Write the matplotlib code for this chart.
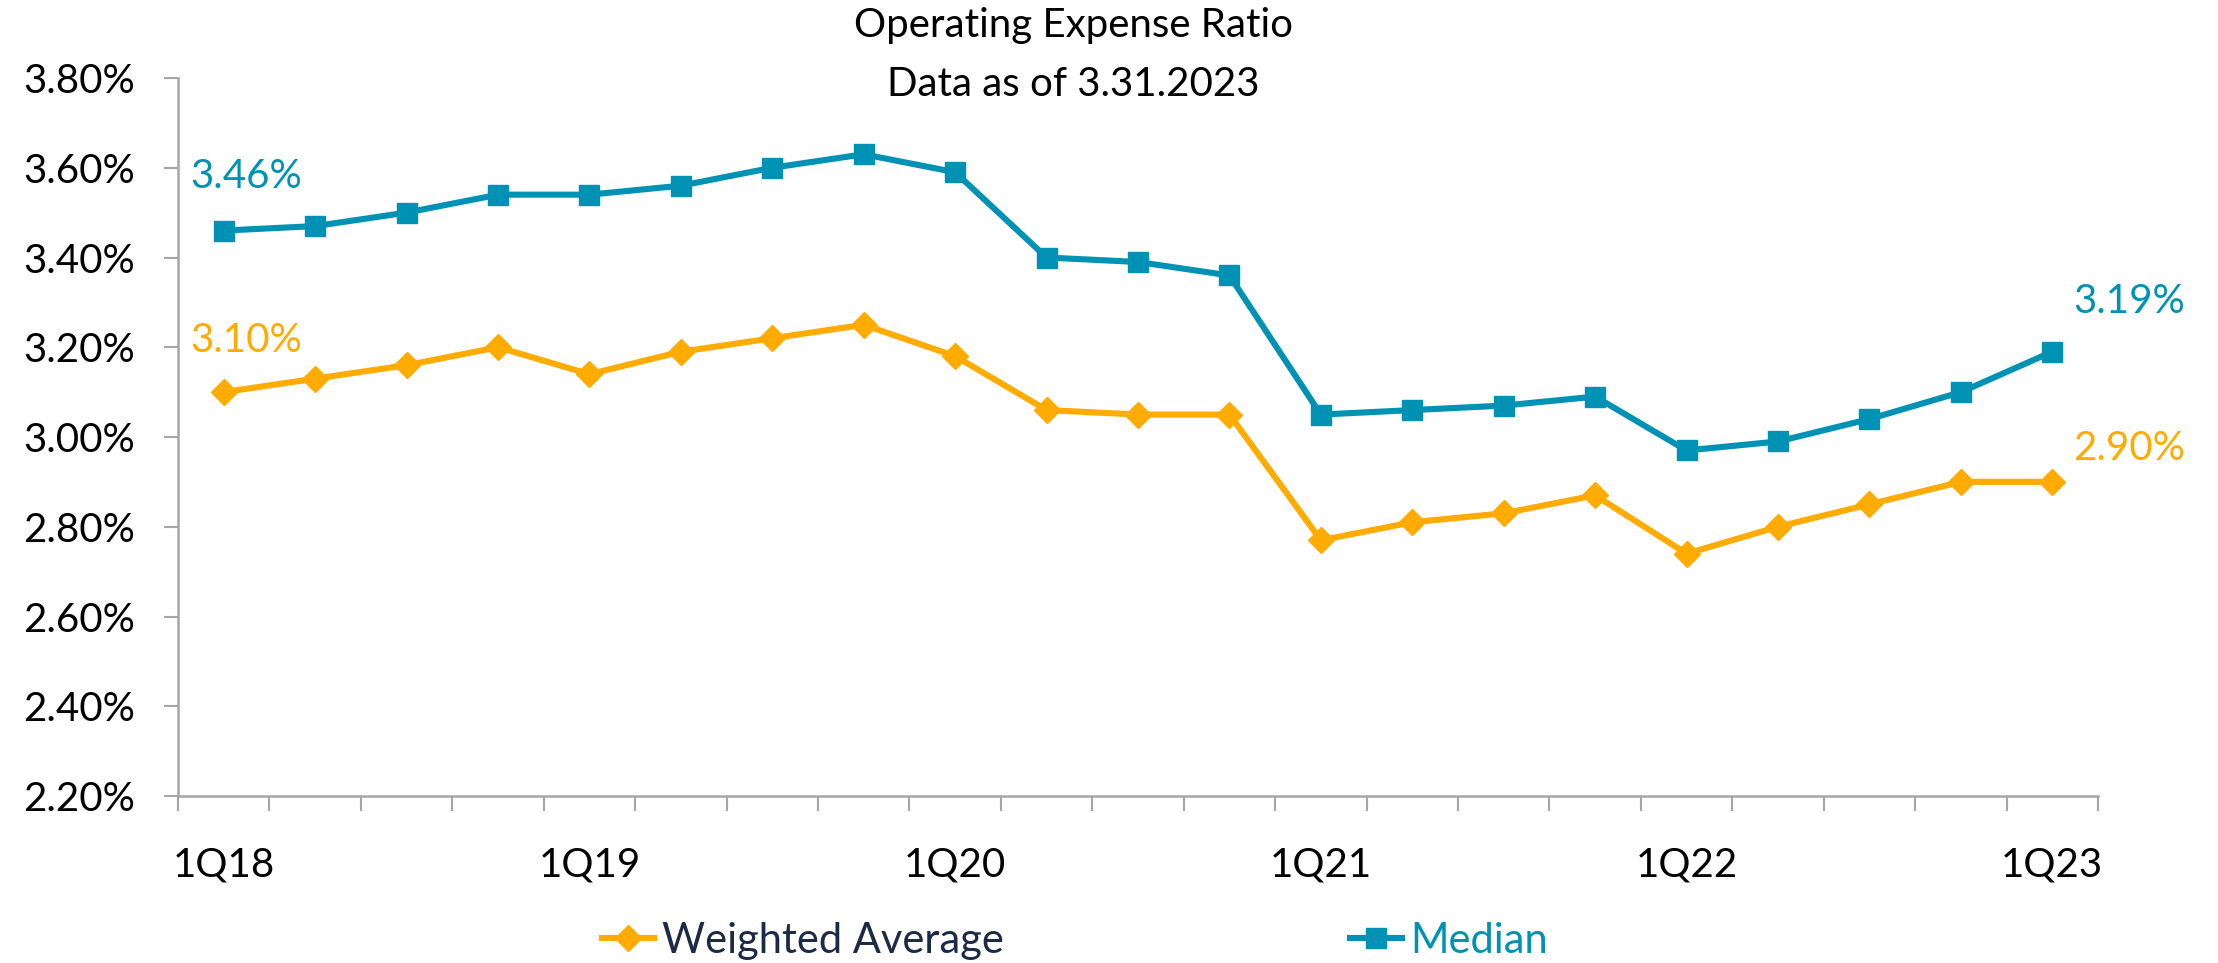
import matplotlib
matplotlib.use("Agg")
import matplotlib.pyplot as plt
from matplotlib.ticker import FixedLocator, FuncFormatter

plt.rcParams['font.family'] = ['Lato', 'DejaVu Sans']

quarters = [f"{q}Q{y}" for y in range(18, 24) for q in range(1, 5)][:21]
weighted_avg = [3.10, 3.13, 3.16, 3.20, 3.14, 3.19, 3.22, 3.25, 3.18, 3.06, 3.05,
                3.05, 2.77, 2.81, 2.83, 2.87, 2.74, 2.80, 2.85, 2.90, 2.90]
median = [3.46, 3.47, 3.50, 3.54, 3.54, 3.56, 3.60, 3.63, 3.59, 3.40, 3.39,
          3.36, 3.05, 3.06, 3.07, 3.09, 2.97, 2.99, 3.04, 3.10, 3.19]
y_ticks = [2.20, 2.40, 2.60, 2.80, 3.00, 3.20, 3.40, 3.60, 3.80]

ORANGE = "#FFAB00"
TEAL = "#0092B4"
NAVY = "#1B2A47"
AXIS_GREY = "#A6A6A6"
FS = 29

W, H = 2218, 963
fig = plt.figure(figsize=(W / 100, H / 100), dpi=100)
ax = fig.add_axes([178 / W, 1 - 796 / H, (2098 - 178) / W, (796 - 78) / H])

x = list(range(len(quarters)))
l1, = ax.plot(x, weighted_avg, color=ORANGE, lw=4.4, marker='D', ms=13.5,
              label="Weighted Average", solid_joinstyle='miter')
l2, = ax.plot(x, median, color=TEAL, lw=4.4, marker='s', ms=14,
              label="Median", solid_joinstyle='miter')

ax.set_xlim(-0.5, len(quarters) - 0.5)
ax.set_ylim(y_ticks[0], y_ticks[-1])

# y axis
ax.yaxis.set_major_locator(FixedLocator(y_ticks))
ax.yaxis.set_major_formatter(FuncFormatter(lambda v, p: f"{v:.2f}%"))
ax.tick_params(axis='y', direction='out', length=10, width=1.5, color=AXIS_GREY,
               pad=21, labelsize=FS, labelcolor='black')

# x axis: tick marks between quarters, labels every fourth quarter
ax.set_xticks([i - 0.5 for i in range(len(quarters) + 1)], minor=True)
label_idx = list(range(0, len(quarters), 4))
ax.set_xticks(label_idx)
ax.set_xticklabels([quarters[i] for i in label_idx])
ax.tick_params(axis='x', which='minor', direction='out', length=11, width=1.5,
               color=AXIS_GREY)
ax.tick_params(axis='x', which='major', length=0, pad=36, labelsize=FS,
               labelcolor='black')

for side in ('top', 'right'):
    ax.spines[side].set_visible(False)
for side in ('left', 'bottom'):
    ax.spines[side].set_color(AXIS_GREY)
    ax.spines[side].set_linewidth(1.8)

# end-point value labels
ax.annotate(f"{median[0]:.2f}%", (x[0], median[0]), xytext=(-24, 39),
            textcoords='offset points', ha='left', va='center', color=TEAL, fontsize=FS)
ax.annotate(f"{weighted_avg[0]:.2f}%", (x[0], weighted_avg[0]), xytext=(-24, 37),
            textcoords='offset points', ha='left', va='center', color=ORANGE, fontsize=FS)
ax.annotate(f"{median[-1]:.2f}%", (x[-1], median[-1]), xytext=(15, 36),
            textcoords='offset points', ha='left', va='center', color=TEAL, fontsize=FS)
ax.annotate(f"{weighted_avg[-1]:.2f}%", (x[-1], weighted_avg[-1]), xytext=(15, 24),
            textcoords='offset points', ha='left', va='center', color=ORANGE, fontsize=FS)

# title
fig.text(1073 / W, 1 - 25 / H, "Operating Expense Ratio", ha='center', va='center',
         fontsize=FS, color='black')
fig.text(1073 / W, 1 - 85 / H, "Data as of 3.31.2023", ha='center', va='center',
         fontsize=FS, color='black')

leg = fig.legend(handles=[l1, l2], loc='center', bbox_to_anchor=(1075 / W, 1 - 941 / H),
                 ncol=2, frameon=False, fontsize=30, handlelength=1.25,
                 handletextpad=0.2, columnspacing=8.3, borderaxespad=0)
leg.get_texts()[0].set_color(NAVY)
leg.get_texts()[1].set_color(TEAL)

fig.savefig("out.png", dpi=100)
